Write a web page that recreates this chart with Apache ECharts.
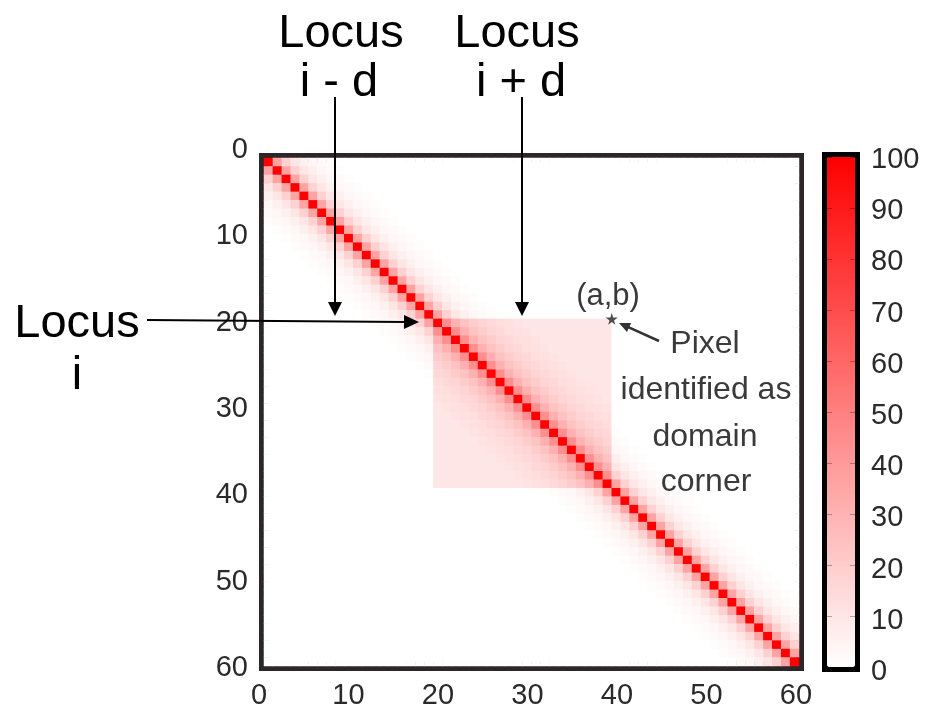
<!DOCTYPE html>
<html><head><meta charset="utf-8">
<script src="https://cdn.jsdelivr.net/npm/echarts@6/dist/echarts.min.js"></script>
<style>html,body{margin:0;padding:0;background:#fff}#c{width:926px;height:713px}</style>
</head><body><div id="c"></div>
<script>
// ---- data ----
const binCount = 60;                                   // 60 x 60 contact bins
const axisTicks = [0, 10, 20, 30, 40, 50, 60];         // axis tick labels
const colorTicks = [0, 10, 20, 30, 40, 50, 60, 70, 80, 90, 100];
const outsideProfile = [100, 36, 18, 10, 6, 3, 2, 1];  // value by distance from diagonal, outside domain
const insideProfile = [100, 44, 31, 24, 20, 17, 15, 13, 12, 11]; // inside the domain
const domainBackground = 10;                           // plateau inside the domain
const domainRange = [19, 39];                          // domain bins [start, end)
const cornerPixel = [39, 19];                          // (a,b) star

// ---- build the table the library needs ----
const bins = [];
for (let i = 0; i < binCount; i++) bins.push(String(i));
const cells = [];
for (let r = 0; r < binCount; r++) {
  for (let c = 0; c < binCount; c++) {
    const d = Math.abs(r - c);
    const inDom = r >= domainRange[0] && r < domainRange[1] && c >= domainRange[0] && c < domainRange[1];
    let v;
    if (inDom) v = d < insideProfile.length ? insideProfile[d] : domainBackground;
    else v = d < outsideProfile.length ? outsideProfile[d] : 0;
    cells.push([c, r, v]);
  }
}

const FONT = 'Liberation Sans, Arial, sans-serif';
const TXT = '#2a2a2a';
const axMin = axisTicks[0], axMax = axisTicks[axisTicks.length - 1];
const cbMin = colorTicks[0], cbMax = colorTicks[colorTicks.length - 1];

function arrow(x1, y1, x2, y2, color, lw, hl, hw) {
  const dx = x2 - x1, dy = y2 - y1, len = Math.sqrt(dx * dx + dy * dy);
  const ux = dx / len, uy = dy / len, px = -uy, py = ux;
  const bx = x2 - ux * hl, by = y2 - uy * hl;
  return [
    { type: 'line', shape: { x1: x1, y1: y1, x2: bx + ux * 2, y2: by + uy * 2 }, style: { stroke: color, lineWidth: lw }, z: 100 },
    { type: 'polygon', shape: { points: [[x2, y2], [bx + px * hw, by + py * hw], [bx - px * hw, by - py * hw]] }, style: { fill: color }, z: 100 }
  ];
}
function label(text, x, y, size, color) {
  return { type: 'text', x: x, y: y, z: 100,
    style: { text: text, fill: color, font: size + 'px ' + FONT, align: 'center', verticalAlign: 'middle' } };
}

const graphics = [].concat(
  [label('Locus', 341, 34, 47, '#000'), label('i - d', 339, 83, 47, '#000'),
   label('Locus', 517, 34, 47, '#000'), label('i + d', 521, 83, 47, '#000'),
   label('Locus', 77, 324, 47, '#000'), label('i', 77, 376, 47, '#000'),
   label('(a,b)', 608, 296, 31, '#3a3a3a'),
   label('Pixel', 705, 344, 32, '#3a3a3a'), label('identified as', 706, 390, 32, '#3a3a3a'),
   label('domain', 705, 437, 32, '#3a3a3a'), label('corner', 706, 482, 32, '#3a3a3a')],
  arrow(335, 97, 335, 316, '#000', 2, 14, 7),
  arrow(522, 97, 522, 316, '#000', 2, 14, 7),
  arrow(147, 320, 419, 322, '#000', 2, 15, 7),
  arrow(659, 341, 619, 323, '#333', 2.5, 11, 5)
);

const hiddenValue = { axisLine: { show: false }, axisTick: { show: false }, splitLine: { show: false }, axisLabel: { show: false } };
const tickLabel = { fontSize: 29, color: TXT, fontFamily: FONT };

const chart = echarts.init(document.getElementById('c'), null, { renderer: 'canvas' });
chart.setOption({
  animation: false,
  backgroundColor: '#ffffff',
  grid: [
    { left: 264, top: 158, width: 535, height: 508, show: true, borderColor: '#2d2628', borderWidth: 10, backgroundColor: 'transparent' },
    { left: 827, top: 157, width: 28, height: 510, show: true, borderColor: '#000000', borderWidth: 10, backgroundColor: 'transparent' },
    { left: 259, top: 150, width: 537, height: 518, show: false },   // tick-label placement of main axes
    { left: 827, top: 160, width: 28, height: 512, show: false }     // tick-label placement of colour bar
  ],
  xAxis: [
    { type: 'category', gridIndex: 0, data: bins, show: false },
    Object.assign({ type: 'value', gridIndex: 0, min: axMin, max: axMax, interval: 10 }, hiddenValue),
    { type: 'category', gridIndex: 1, data: ['c'], show: false },
    { type: 'value', gridIndex: 2, min: axMin, max: axMax, interval: 10, position: 'bottom',
      axisLine: { show: false }, axisTick: { show: false }, splitLine: { show: false },
      axisLabel: Object.assign({ margin: 13 }, tickLabel) },
    { type: 'category', gridIndex: 3, data: ['c'], show: false }
  ],
  yAxis: [
    { type: 'category', gridIndex: 0, data: bins, inverse: true, show: false },
    Object.assign({ type: 'value', gridIndex: 0, min: axMin, max: axMax, interval: 10, inverse: true }, hiddenValue),
    { type: 'value', gridIndex: 1, min: cbMin, max: cbMax, interval: 10, position: 'right', z: 10,
      axisLine: { show: false }, splitLine: { show: false }, axisLabel: { show: false },
      axisTick: { show: true, inside: true, length: 5, lineStyle: { color: 'rgba(0,0,0,0.3)', width: 1 } } },
    { type: 'value', gridIndex: 1, min: cbMin, max: cbMax, interval: 10, position: 'left', z: 10,
      axisLine: { show: false }, splitLine: { show: false }, axisLabel: { show: false },
      axisTick: { show: true, inside: true, length: 5, lineStyle: { color: 'rgba(0,0,0,0.3)', width: 1 } } },
    { type: 'value', gridIndex: 2, min: axMin, max: axMax, interval: 10, inverse: true, position: 'left',
      axisLine: { show: false }, axisTick: { show: false }, splitLine: { show: false },
      axisLabel: Object.assign({ margin: 11 }, tickLabel) },
    { type: 'value', gridIndex: 3, min: cbMin, max: cbMax, interval: 10, position: 'right',
      axisLine: { show: false }, axisTick: { show: false }, splitLine: { show: false },
      axisLabel: Object.assign({ margin: 16 }, tickLabel) }
  ],
  visualMap: {
    type: 'continuous', min: cbMin, max: cbMax, seriesIndex: 0, calculable: false, hoverLink: false,
    inRange: { color: ['#ffffff', '#ff0000'] },
    orient: 'vertical', left: 827, top: 157, itemWidth: 28, itemHeight: 510, padding: 0,
    text: null, showLabel: false
  },
  series: [
    { type: 'heatmap', xAxisIndex: 0, yAxisIndex: 0, data: cells, progressive: 0,
      itemStyle: { borderWidth: 0 }, emphasis: { disabled: true } },
    { type: 'scatter', xAxisIndex: 1, yAxisIndex: 1, data: [cornerPixel], z: 20,
      symbol: 'path://M50,0 L61,35 L98,35 L68,57 L79,91 L50,70 L21,91 L32,57 L2,35 L39,35 Z',
      symbolSize: 12, itemStyle: { color: '#222' }, emphasis: { disabled: true } }
  ],
  graphic: graphics
});
</script></body></html>
